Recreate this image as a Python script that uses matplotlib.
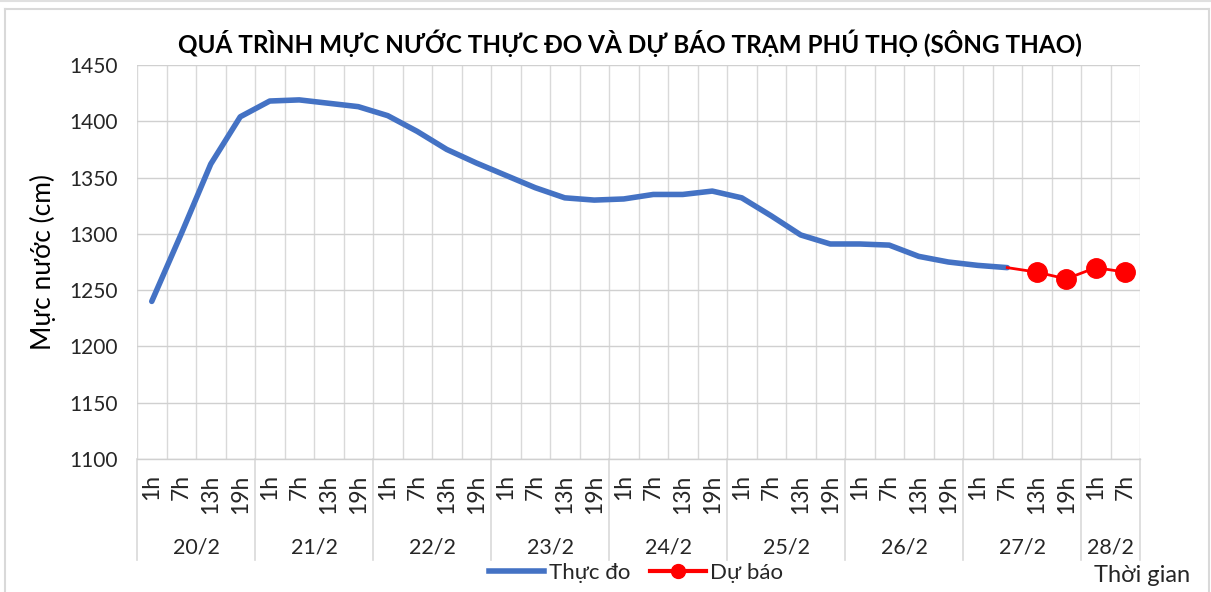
import numpy as np
import matplotlib
matplotlib.use("Agg")
import matplotlib.pyplot as plt
from matplotlib.lines import Line2D
import matplotlib.transforms as mtransforms

plt.rcParams['font.family'] = ['Lato', 'DejaVu Sans']

days = ["20/2", "21/2", "22/2", "23/2", "24/2", "25/2", "26/2", "27/2", "28/2"]
hours_per_day = [4, 4, 4, 4, 4, 4, 4, 4, 2]
hour_names = ["1h", "7h", "13h", "19h"]
hour_labels = [hour_names[j] for n in hours_per_day for j in range(n)]

measured = [1240, 1300, 1362, 1404, 1418, 1419, 1416, 1413, 1405, 1391,
            1375, 1363, 1352, 1341, 1332, 1330, 1331, 1335, 1335, 1338,
            1332, 1316, 1299, 1291, 1291, 1290, 1280, 1275, 1272, 1270]
forecast_start = 29
forecast = [1270, 1266, 1260, 1270, 1266]

W, H = 1211, 592
fig = plt.figure(figsize=(W / 100, H / 100), dpi=100)
fig.patch.set_facecolor('white')

left, right, top, bottom = 137, 1140, 65, 459
ax = fig.add_axes([left / W, 1 - bottom / H, (right - left) / W, (bottom - top) / H])

n = len(hour_labels)
x_meas = np.arange(len(measured))
x_fc = np.arange(forecast_start, forecast_start + len(forecast))

ax.plot(x_meas, measured, color='#4472C4', lw=4.0, solid_capstyle='round',
        solid_joinstyle='round', zorder=3)
ax.plot(x_fc, forecast, color='#FF0000', lw=2.0, zorder=4)
ax.plot(x_fc[1:], forecast[1:], 'o', color='#FF0000', ms=14, zorder=5)

ax.set_xlim(-0.5, n - 0.5)
ax.set_ylim(1100, 1450)
ax.set_yticks(np.arange(1100, 1451, 50))
ax.set_xticks(np.arange(n))
ax.set_xticklabels(hour_labels, rotation=90, fontsize=16.5)
ax.set_xticks(np.arange(-0.5, n, 0.5), minor=True)
ax.tick_params(axis='both', which='both', length=0)
ax.tick_params(axis='x', which='major', pad=11)
ax.tick_params(axis='y', labelsize=15, pad=14)
ax.grid(axis='y', color='#d0d0d0', lw=1.0)
ax.grid(axis='x', which='minor', color='#d9d9d9', lw=1.0)
ax.set_axisbelow(True)
for s in ['top', 'right', 'left']:
    ax.spines[s].set_visible(False)
ax.spines['bottom'].set_color('#d0d0d0')
ax.spines['bottom'].set_linewidth(1.0)

# day group separators and labels
trans = mtransforms.blended_transform_factory(ax.transData, ax.transAxes)
bounds = np.concatenate([[0], np.cumsum(hours_per_day)]) - 0.5
for b in bounds:
    ax.plot([b, b], [0, -0.257], color='#d9d9d9', lw=1.2, transform=trans, clip_on=False)
for i, d in enumerate(days):
    c = (bounds[i] + bounds[i + 1]) / 2
    ax.text(c, -0.224, d, transform=trans, ha='center', va='center', fontsize=15.5, color='#262626')

for lbl in ax.get_xticklabels() + ax.get_yticklabels():
    lbl.set_color('#262626')

fig.text(630 / W, 1 - 43 / H, "QUÁ TRÌNH MỰC NƯỚC THỰC ĐO VÀ DỰ BÁO TRẠM PHÚ THỌ (SÔNG THAO)",
         ha='center', va='center', fontsize=17.5, fontweight='bold', color='#000000')
fig.text(43 / W, 1 - 262 / H, "Mực nước (cm)", rotation=90, ha='center', va='center',
         fontsize=19, color='#000000')
fig.text(1190 / W, 1 - 576 / H, "Thời gian", ha='right', va='center', fontsize=17,
         color='#262626')

handles = [Line2D([], [], color='#4472C4', lw=4.0),
           Line2D([], [], color='#FF0000', lw=3.0, marker='o', ms=10)]
fig.legend(handles, ["Thực đo", "Dự báo"], loc='center', bbox_to_anchor=(636 / W, 1 - 573 / H),
           ncol=2, frameon=False, fontsize=16, handlelength=2.5, handletextpad=0.2,
           columnspacing=0.9, labelcolor='#262626', borderpad=0.1)

# outer chart border
border = '#d9d9d9'
fig.add_artist(Line2D([5 / W, 5 / W], [0, 1 - 9 / H], color=border, lw=1.5))
fig.add_artist(Line2D([5 / W, 1209 / W], [1 - 9 / H, 1 - 9 / H], color=border, lw=1.5))
fig.add_artist(Line2D([1209 / W, 1209 / W], [0, 1 - 9 / H], color=border, lw=1.5))
fig.add_artist(Line2D([0, 1], [1 - 1 / H, 1 - 1 / H], color='#e0e0e0', lw=1.5))

fig.savefig("out.png", dpi=100, facecolor='white')
